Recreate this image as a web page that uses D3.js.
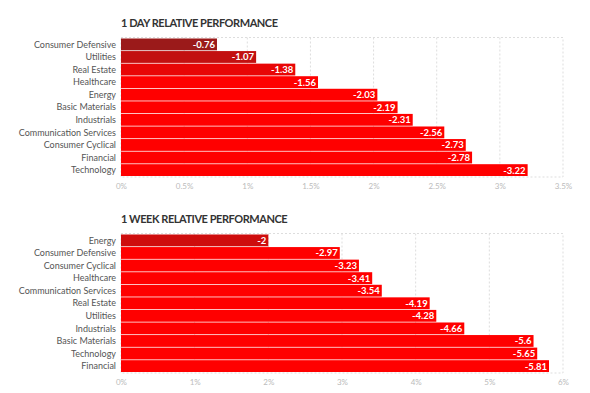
<!DOCTYPE html>
<html>
<head>
<meta charset="utf-8">
<script src="https://cdn.jsdelivr.net/npm/d3@7"></script>
<style>
  body { margin: 0; background: #fff; font-family: Lato, "Open Sans", sans-serif; }
  .title { font-weight: bold; fill: #333; font-size: 11px; letter-spacing: -0.45px; }
  .cat { fill: #555; font-size: 9px; }
  .tick text { fill: #bbb; font-size: 8px; }
  .val { fill: #fff; font-weight: bold; font-size: 9.5px; }
</style>
</head>
<body>
<div id="chart"></div>
<script>
// 1 day
var dayCategories = ['Consumer Defensive', 'Utilities', 'Real Estate', 'Healthcare', 'Energy',
    'Basic Materials', 'Industrials', 'Communication Services', 'Consumer Cyclical', 'Financial', 'Technology'];
var dayValues = [-0.76, -1.07, -1.38, -1.56, -2.03, -2.19, -2.31, -2.56, -2.73, -2.78, -3.22];
var dayTicks = [0, 0.5, 1, 1.5, 2, 2.5, 3, 3.5];

// 1 week
var weekCategories = ['Energy', 'Consumer Defensive', 'Consumer Cyclical', 'Healthcare', 'Communication Services',
    'Real Estate', 'Utilities', 'Industrials', 'Basic Materials', 'Technology', 'Financial'];
var weekValues = [-2, -2.97, -3.23, -3.41, -3.54, -4.19, -4.28, -4.66, -5.6, -5.65, -5.81];
var weekTicks = [0, 1, 2, 3, 4, 5, 6];

var width = 590, height = 393;
var svg = d3.select('#chart').append('svg')
    .attr('width', width)
    .attr('height', height);

function drawPanel(opts){
    var g = svg.append('g');
    var x = d3.scaleLinear()
        .domain([0, opts.max])
        .range([121, 563]);
    var y = d3.scaleBand()
        .domain(opts.categories)
        .range([opts.top + 1, opts.bottom - 1])
        .paddingInner(0.06);

    // colour goes from dark red (small loss) to pure red
    var color = d3.scaleLinear()
        .domain(opts.colorDomain)
        .range(['#9b1a1a', '#ff0000'])
        .clamp(true);

    g.append('text')
        .attr('class', 'title')
        .attr('x', 121)
        .attr('y', opts.top - 11)
        .text(opts.title);

    // dashed frame + grid
    g.append('rect')
        .attr('x', x(0)).attr('y', opts.top)
        .attr('width', x(opts.max) - x(0))
        .attr('height', opts.bottom - opts.top)
        .attr('fill', 'none')
        .attr('stroke', '#ddd')
        .attr('stroke-dasharray', '2,2');
    g.selectAll('line.grid')
        .data(opts.ticks.slice(1, -1))
        .enter().append('line')
        .attr('class', 'grid')
        .attr('x1', d => x(d)).attr('x2', d => x(d))
        .attr('y1', opts.top).attr('y2', opts.bottom)
        .attr('stroke', '#ddd')
        .attr('stroke-dasharray', '2,2');

    var axis = d3.axisBottom(x)
        .tickValues(opts.ticks)
        .tickSize(0)
        .tickPadding(6)
        .tickFormat(d => d + '%');
    g.append('g')
        .attr('transform', 'translate(0,' + opts.bottom + ')')
        .call(axis)
        .call(a => a.select('.domain').remove())
        .selectAll('text').style('font-family', 'Lato');

    var rows = opts.categories.map((c, i) => ({name: c, value: opts.values[i]}));

    g.selectAll('rect.bar')
        .data(rows)
        .enter().append('rect')
        .attr('class', 'bar')
        .attr('x', x(0))
        .attr('y', d => y(d.name))
        .attr('width', d => x(-d.value) - x(0))
        .attr('height', y.bandwidth())
        .attr('fill', d => color(d.value));

    g.selectAll('text.val')
        .data(rows)
        .enter().append('text')
        .attr('class', 'val')
        .attr('x', d => x(-d.value) - 2)
        .attr('y', d => y(d.name) + y.bandwidth() / 2)
        .attr('dy', '0.36em')
        .attr('text-anchor', 'end')
        .text(d => d.value);

    g.selectAll('text.cat')
        .data(rows)
        .enter().append('text')
        .attr('class', 'cat')
        .attr('x', 116)
        .attr('y', d => y(d.name) + y.bandwidth() / 2)
        .attr('dy', '0.36em')
        .attr('text-anchor', 'end')
        .text(d => d.name);
}

drawPanel({
    title: '1 DAY RELATIVE PERFORMANCE',
    categories: dayCategories, values: dayValues, ticks: dayTicks,
    max: 3.5, top: 37.5, bottom: 177, colorDomain: [-0.76, -1.56]
});
drawPanel({
    title: '1 WEEK RELATIVE PERFORMANCE',
    categories: weekCategories, values: weekValues, ticks: weekTicks,
    max: 6, top: 233.5, bottom: 373, colorDomain: [-1.0, -2.95]
});
</script>
</body>
</html>
